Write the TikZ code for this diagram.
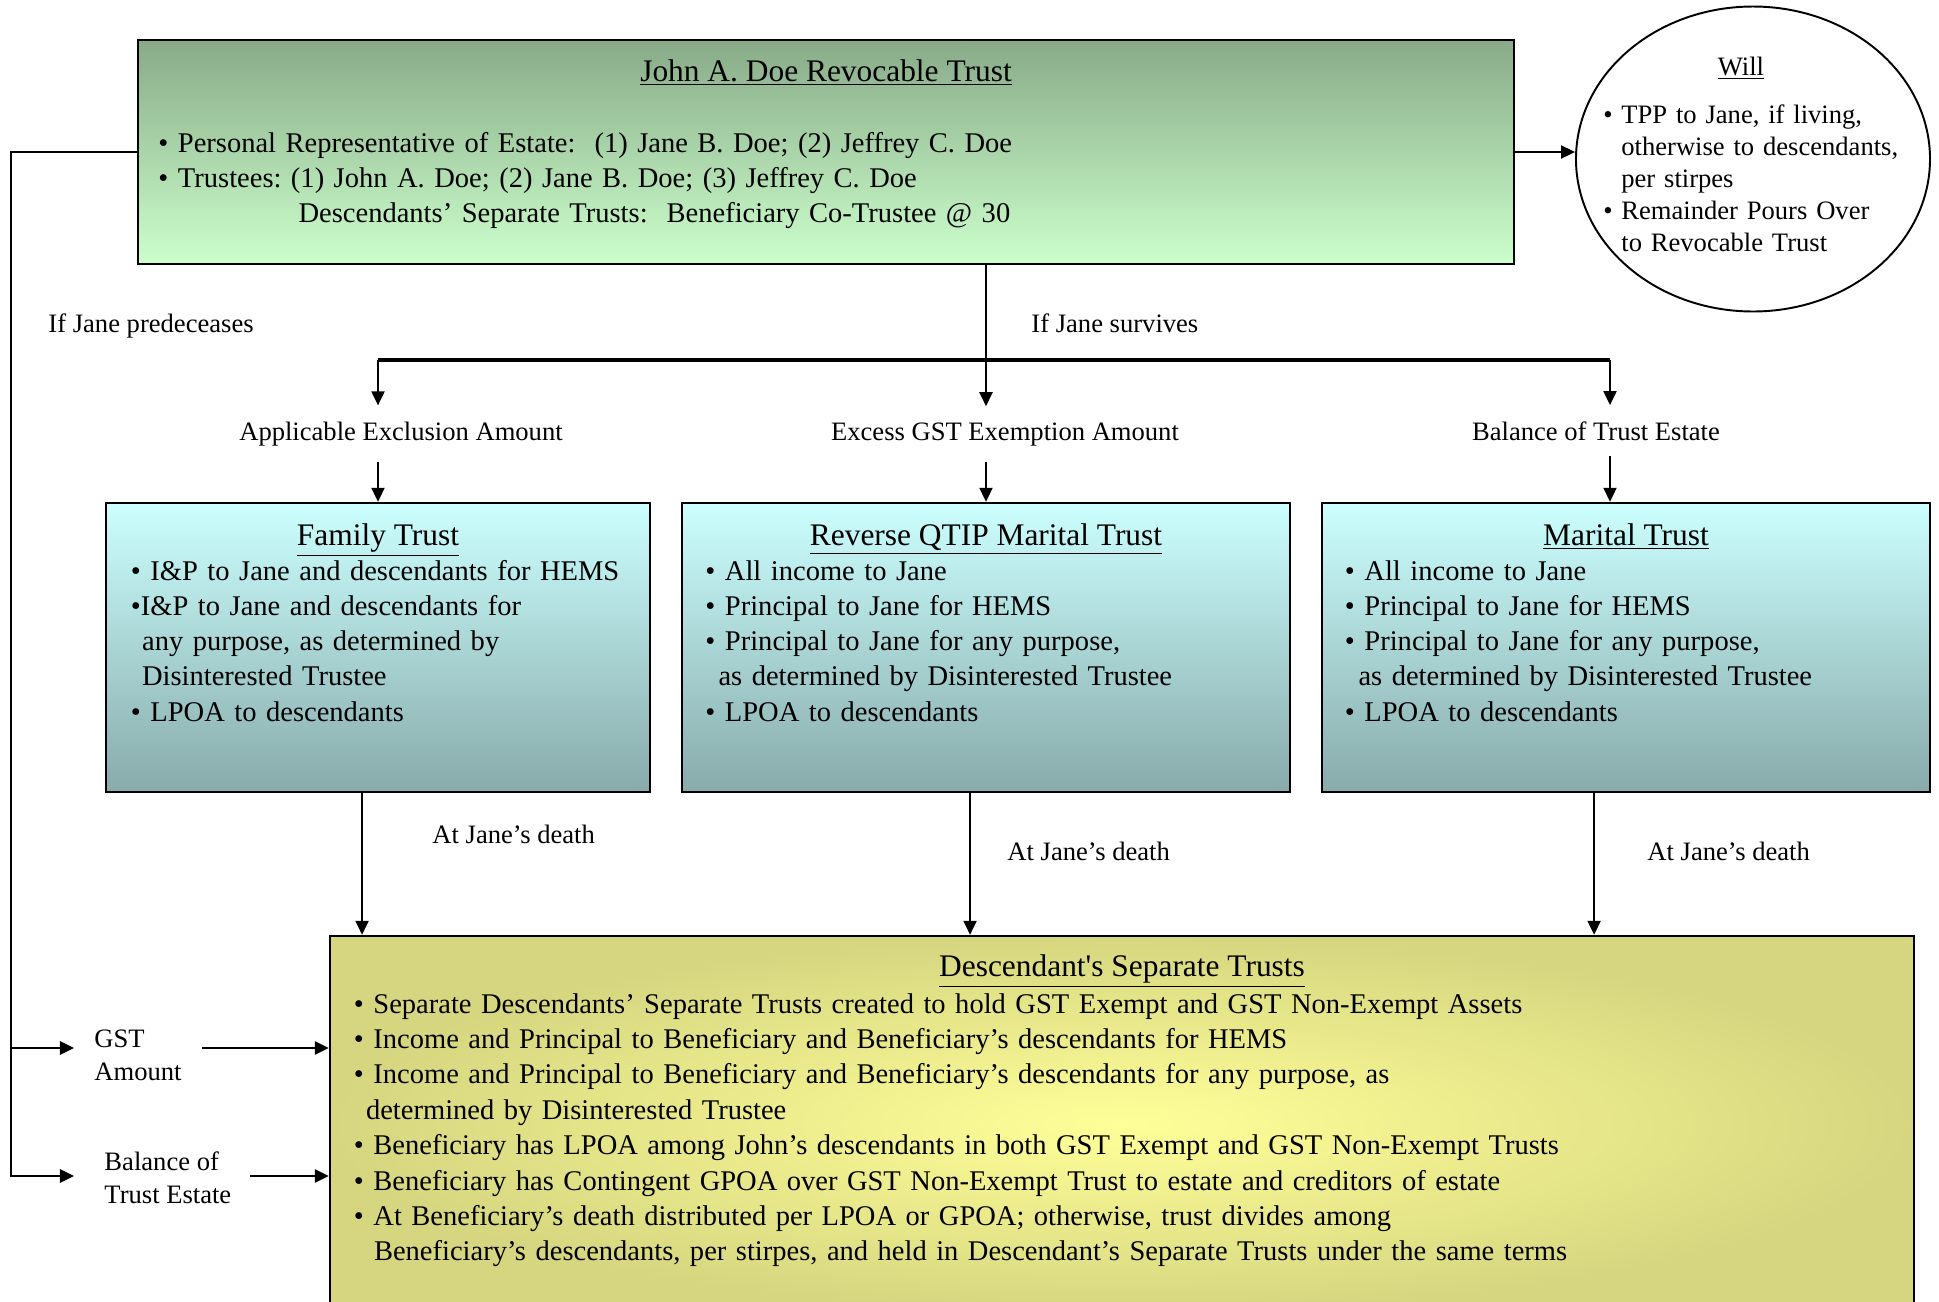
\documentclass[tikz,border=0pt]{standalone}
\usepackage{fontspec}
\setmainfont{Liberation Serif}
\usetikzlibrary{arrows.meta,fit,shapes.geometric}
\definecolor{revtop}{HTML}{88AA88}
\definecolor{revbot}{HTML}{CCFFCC}
\definecolor{subtop}{HTML}{CCFFFF}
\definecolor{subbot}{HTML}{88AAAA}
\definecolor{seppale}{HTML}{FFFF99}
\definecolor{sepdeep}{HTML}{D6D680}
\frenchspacing

\begin{document}
\begin{tikzpicture}[x=0.4138pt,y=-0.4138pt,>={Triangle[length=5.8pt,width=5.4pt]},
  panel/.style={draw,line width=1pt,inner sep=0pt},
  body/.style={inner sep=0pt,anchor=base west,align=left,font=\fontsize{11.8}{14.6}\selectfont},
  head/.style={inner sep=0pt,anchor=base,font=\fontsize{13}{15}\selectfont},
  note/.style={inner sep=0pt,anchor=base west,align=left,font=\fontsize{11}{13.4}\selectfont},
  share/.style={anchor=base,inner xsep=0pt,inner ysep=6.5pt,font=\fontsize{11}{13.4}\selectfont},
  link/.style={->,line width=0.8pt},
  rail/.style={->,line width=1.1pt}]
  % Page size
  \useasboundingbox (0,0) rectangle (1939,1301);
  \def\wbul{\makebox[7.4pt][l]{•}}
  %
  % Revocable trust and will
  \node[fit={(138,40) (1514,264)},panel,top color=revtop,bottom color=revbot] (trust) {};
  \node[head] (trusthead) at (826,81) {\underline{John A. Doe Revocable Trust}};
  \node[body,text width=560pt] (trusttext) at (158,152)
    {• Personal Representative of Estate:\ \ (1) Jane B. Doe; (2) Jeffrey C. Doe\\
     • Trustees: (1) John A. Doe; (2) Jane B. Doe; (3) Jeffrey C. Doe\\
     \hspace*{58pt}Descendants’ Separate Trusts:\ \ Beneficiary Co-Trustee @ 30};
  \node[ellipse,draw,line width=0.8pt,inner sep=0pt,minimum width=146.5pt,
    minimum height=126.2pt] (will) at (1753,159) {};
  \node[head,font=\fontsize{11}{13.4}\selectfont] (willhead) at (1741,75) {\underline{Will}};
  \node[note,text width=130pt,font=\fontsize{11}{13.3}\selectfont] (willtext) at (1603,123)
    {\wbul TPP to Jane, if living,\\
     \hspace*{7.4pt}otherwise to descendants,\\
     \hspace*{7.4pt}per stirpes\\
     \wbul Remainder Pours Over\\
     \hspace*{7.4pt}to Revocable Trust};
  %
  % Trusts at death
  \node[fit={(106,503) (650,792)},panel,top color=subtop,bottom color=subbot] (family) {};
  \node[fit={(682,503) (1290,792)},panel,top color=subtop,bottom color=subbot] (qtip) {};
  \node[fit={(1322,503) (1930,792)},panel,top color=subtop,bottom color=subbot] (marital) {};
  \node[head] (familyhead) at (family.north |- 0,545) {\underline{Family Trust}};
  \node[head] (qtiphead) at (qtip.north |- 0,545) {\underline{Reverse QTIP Marital Trust}};
  \node[head] (maritalhead) at (marital.north |- 0,545) {\underline{Marital Trust}};
  \node[body,text width=215pt] (familytext) at (130.5,580)
    {• I\&P to Jane and descendants for HEMS\\
     •I\&P to Jane and descendants for\\
     \hspace*{4.6pt}any purpose, as determined by\\
     \hspace*{4.6pt}Disinterested Trustee\\
     • LPOA to descendants};
  \node[body,text width=240pt] (qtiptext) at (705,580)
    {• All income to Jane\\
     • Principal to Jane for HEMS\\
     • Principal to Jane for any purpose,\\
     \hspace*{5.4pt}as determined by Disinterested Trustee\\
     • LPOA to descendants};
  \node[body,text width=240pt] (maritaltext) at (1344.5,580)
    {• All income to Jane\\
     • Principal to Jane for HEMS\\
     • Principal to Jane for any purpose,\\
     \hspace*{5.6pt}as determined by Disinterested Trustee\\
     • LPOA to descendants};
  %
  % Descendants' trusts
  \node[fit={(330,936) (1914,1312)},panel,shading=radial,inner color=seppale,
    outer color=sepdeep] (seps) {};
  \node[head] (sepshead) at (1122,976) {\underline{Descendant\textquotesingle s Separate Trusts}};
  \node[body,text width=640pt,font=\fontsize{11.8}{14.65}\selectfont] (sepstext) at (353.5,1013)
    {• Separate Descendants’ Separate Trusts created to hold GST Exempt and GST Non-Exempt Assets\\
     • Income and Principal to Beneficiary and Beneficiary’s descendants for HEMS\\
     • Income and Principal to Beneficiary and Beneficiary’s descendants for any purpose, as\\
     \hspace*{5pt}determined by Disinterested Trustee\\
     • Beneficiary has LPOA among John’s descendants in both GST Exempt and GST Non-Exempt Trusts\\
     • Beneficiary has Contingent GPOA over GST Non-Exempt Trust to estate and creditors of estate\\
     • At Beneficiary’s death distributed per LPOA or GPOA; otherwise, trust divides among\\
     \hspace*{8.3pt}Beneficiary’s descendants, per stirpes, and held in Descendant’s Separate Trusts under the same terms};
  %
  % Labels
  \node[note] (predecease) at (48,332) {If Jane predeceases};
  \node[note] (survive) at (1031,332) {If Jane survives};
  \node[share] (exclusion) at (401,440) {Applicable Exclusion Amount};
  \node[share] (excess) at (1005,440) {Excess GST Exemption Amount};
  \node[share] (balance) at (1596,440) {Balance of Trust Estate};
  \node[note] (deathA) at (432,843) {At Jane’s death};
  \node[note] (deathB) at (1007,860) {At Jane’s death};
  \node[note] (deathC) at (1647,860) {At Jane’s death};
  \node[note,font=\fontsize{11}{13.5}\selectfont] (gst) at (94,1080) {GST\\Amount};
  \node[note,font=\fontsize{11}{13.5}\selectfont] (rest) at (104,1203) {Balance of\\Trust Estate};
  %
  % Connectors
  \coordinate (fork) at (986,360);
  \coordinate (forkR) at (1610,360);
  \coordinate (lane) at (11,1176);
  \coordinate (gstin) at (74,1048);
  \coordinate (restin) at (74,1176);
  \coordinate (gstout) at (202,1048);
  \coordinate (restout) at (250,1176);
  \draw[->,line width=0.85pt] (trust.east) -- (trust.east -| will.west);
  \draw[line width=0.8pt] (fork |- trust.south) -- (fork);
  \draw[line width=1.3pt] (fork -| family.north) -- (forkR);
  \draw[link] (fork -| family.north) -- (exclusion.north -| family.north);
  \draw[link] (exclusion.south -| family.north) -- (family.north);
  \draw[link] (fork) -- (excess.north -| fork);
  \draw[link] (excess.south -| fork) -- (qtip.north);
  \draw[link] (forkR) -- (balance.north -| forkR);
  \draw[link] (balance.south -| forkR) -- (marital.north -| forkR);
  \draw[link] ([xshift=-6.6pt]family.south) -- ([xshift=-6.6pt]family.south |- seps.north);
  \draw[link] ([xshift=-6.6pt]qtip.south) -- ([xshift=-6.6pt]qtip.south |- seps.north);
  \draw[link] ([xshift=-13.2pt]marital.south) -- ([xshift=-13.2pt]marital.south |- seps.north);
  \draw[rail] (trust.west) -| (lane) -- (restin);
  \draw[rail] (lane |- gstin) -- (gstin);
  \draw[rail] (gstout) -- (gstout -| seps.west);
  \draw[rail] (restout) -- (restout -| seps.west);
  %
\end{tikzpicture}
\end{document}
